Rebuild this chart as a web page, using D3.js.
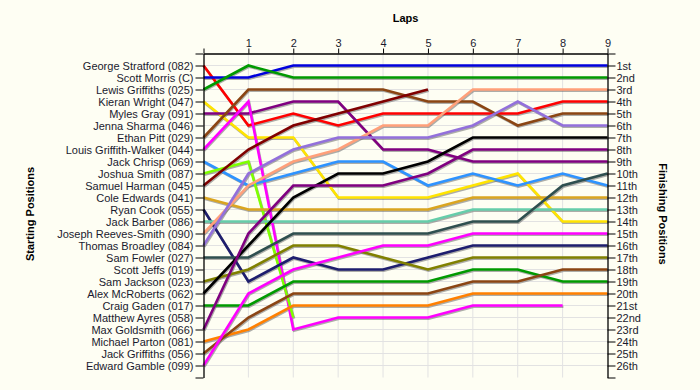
<!DOCTYPE html>
<html><head><meta charset="utf-8">
<script src="https://cdn.jsdelivr.net/npm/d3@7"></script>
<style>
html,body{margin:0;padding:0;background:#FEFEF3;}
svg{display:block;}
text{font-family:"Liberation Sans",Arial,sans-serif;}
</style></head>
<body>
<svg id="chart" width="700" height="390"></svg>
<script>
// ---------- DATA ----------
const startLabels = ["George Stratford (082)","Scott Morris (C)","Lewis Griffiths (025)","Kieran Wright (047)","Myles Gray (091)","Jenna Sharma (046)","Ethan Pitt (029)","Louis Griffith-Walker (044)","Jack Chrisp (069)","Joshua Smith (087)","Samuel Harman (045)","Cole Edwards (041)","Ryan Cook (055)","Jack Barber (086)","Joseph Reeves-Smith (090)","Thomas Broadley (084)","Sam Fowler (027)","Scott Jeffs (019)","Sam Jackson (023)","Alex McRoberts (062)","Craig Gaden (017)","Matthew Ayres (058)","Max Goldsmith (066)","Michael Parton (081)","Jack Griffiths (056)","Edward Gamble (099)"];
const finishLabels = ["1st","2nd","3rd","4th","5th","6th","7th","8th","9th","10th","11th","12th","13th","14th","15th","16th","17th","18th","19th","20th","21st","22nd","23rd","24th","25th","26th"];
const lapLabels = [1,2,3,4,5,6,7,8,9];

// position of each driver at lap 0..n
const georgeStratford   = [1,6,5,6,5,5,5,5,4,4];
const scottMorris       = [2,2,1,1,1,1,1,1,1,1];
const lewisGriffiths    = [3,1,2,2,2,2,2,2,2,2];
const kieranWright      = [4,7,7,12,12,12,11,10,14,14];
const mylesGray         = [5,5,4,4,8,8,9,9,9,9];
const ethanPitt         = [7,3,3,3,3,4,4,6,5,5];
const louisGriffithWalker = [8,4,23,22,22,22,21,21,21];
const jackChrisp        = [9,11,10,9,9,11,10,11,10,11];
const joshuaSmith       = [10,9,22];
const samuelHarman      = [11,8,6,5,4,3];
const coleEdwards       = [12,13,13,13,13,13,12,12,12,12];
const ryanCook          = [13,19,17,18,18,17,16,16,16,16];
const jackBarber        = [14,14,14,14,14,14,13,13,13,13];
const josephReevesSmith = [15,11,9,8,6,6,3,3,3,3];
const thomasBroadley    = [16,10,8,7,7,7,6,4,6,6];
const samFowler         = [17,17,15,15,15,15,14,14,11,10];
const samJackson        = [19,18,16,16,17,18,17,17,17,17];
const alexMcRoberts     = [20,16,12,10,10,9,7,7,7,7];
const craigGaden        = [21,21,19,19,19,19,18,18,19,19];
const maxGoldsmith      = [23,15,11,11,11,10,8,8,8,8];
const michaelParton     = [24,23,21,21,21,21,20,20,20,20];
const jackGriffiths     = [25,22,20,20,20,20,19,19,18,18];
const edwardGamble      = [26,20,18,17,16,16,15,15,15,15];

const seriesData = [georgeStratford,scottMorris,lewisGriffiths,kieranWright,mylesGray,ethanPitt,louisGriffithWalker,jackChrisp,joshuaSmith,samuelHarman,coleEdwards,ryanCook,jackBarber,josephReevesSmith,thomasBroadley,samFowler,samJackson,alexMcRoberts,craigGaden,maxGoldsmith,michaelParton,jackGriffiths,edwardGamble];
// styles
const seriesColors = ["#FF0000","#0000DD","#009A00","#FFE400","#800080","#8B4513","#FF00FF","#2E93FF","#7FFF00","#800000","#DAA520","#1E1E6E","#66CDAA","#FFA07A","#9370DB","#2F4F4F","#808000","#000000","#009A00","#800080","#FF8000","#8B4513","#FF00FF"];

// ---------- LAYOUT ----------
const svg = d3.select("#chart");
const x = d3.scaleLinear().domain([0,9]).range([203.5,607.5]);
const y = d3.scaleLinear().domain([0,27]).range([53.5,377.5]);
const rows = d3.range(0,28);
const textColor = "#1a1a2e";

// grid
const grid = svg.append("g");
grid.selectAll("line.h").data(d3.range(1,27)).join("line")
  .attr("x1",x(0)).attr("x2",x(9)).attr("y1",d=>y(d)).attr("y2",d=>y(d))
  .attr("stroke","#E2E2E2").attr("stroke-width",1);
grid.selectAll("line.v").data(d3.range(1,9)).join("line")
  .attr("y1",y(0)).attr("y2",y(27)).attr("x1",d=>x(d)).attr("x2",d=>x(d))
  .attr("stroke","#E2E2E2").attr("stroke-width",1);

// lines
const line = d3.line().x((d,i)=>x(i)).y(d=>y(d));
const lg = svg.append("g");
seriesData.forEach((s,i)=>{
  lg.append("path").attr("d",line(s)).attr("fill","none")
    .attr("stroke","#6a6a6a").attr("stroke-opacity",0.55).attr("stroke-width",2.6)
    .attr("transform","translate(0.8,1.2)");
});
seriesData.forEach((s,i)=>{
  lg.append("path").attr("d",line(s)).attr("fill","none")
    .attr("stroke",seriesColors[i]).attr("stroke-width",2.6);
});

// axes
function styleAxis(g){
  g.selectAll("path.domain").attr("stroke","#000").attr("stroke-width",1.3);
  g.selectAll(".tick line").attr("stroke","#000").attr("stroke-width",1);
  g.selectAll("text").attr("fill",textColor).style("font-size","11px")
    .style("font-family","'Liberation Sans',Arial,sans-serif");
}
const leftAxis = d3.axisLeft(y).tickValues(rows).tickSize(8).tickPadding(2).tickSizeOuter(0)
  .tickFormat(d=> (d>=1 && d<=26) ? startLabels[d-1] : "");
svg.append("g").attr("transform",`translate(${x(0)},0)`).call(leftAxis).call(styleAxis);

const rightAxis = d3.axisRight(y).tickValues(rows).tickSize(8).tickPadding(1).tickSizeOuter(0)
  .tickFormat(d=> (d>=1 && d<=26) ? finishLabels[d-1] : "");
svg.append("g").attr("transform",`translate(${x(9)},0)`).call(rightAxis).call(styleAxis);

const topAxis = d3.axisTop(x).tickValues(d3.range(0,10)).tickSize(5).tickPadding(2).tickSizeOuter(0)
  .tickFormat(d=> d>=1 ? lapLabels[d-1] : "");
svg.append("g").attr("transform",`translate(0,${y(0)})`).call(topAxis).call(styleAxis);

// titles
svg.append("text").attr("x",(x(0)+x(9))/2).attr("y",22).attr("text-anchor","middle")
  .style("font-size","11px").style("font-weight","bold").attr("fill","#000").text("Laps");
svg.append("text").attr("transform","translate(34,214) rotate(-90)").attr("text-anchor","middle")
  .style("font-size","11px").style("font-weight","bold").attr("fill","#000").text("Starting Positions");
svg.append("text").attr("transform","translate(659,214) rotate(90)").attr("text-anchor","middle")
  .style("font-size","11px").style("font-weight","bold").attr("fill","#000").text("Finishing Positions");
</script>
</body></html>
